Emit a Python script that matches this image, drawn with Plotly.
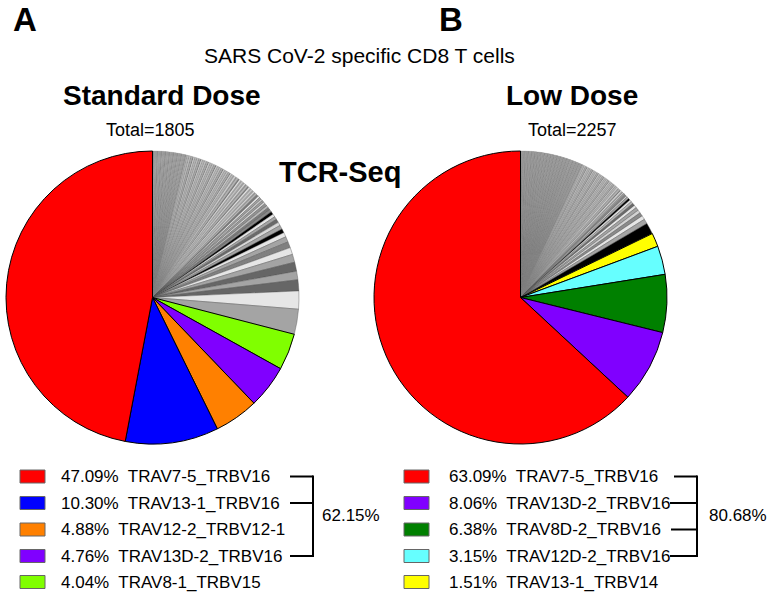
import plotly.graph_objects as go

W, H = 768, 595

# ---------------- Data ----------------
# Panel A: Standard Dose
left_title = "Standard Dose"
left_total = 1805
left_top_pcts = [47.09, 10.30, 4.88, 4.76, 4.04]
left_top_names = ["TRAV7-5_TRBV16", "TRAV13-1_TRBV16", "TRAV12-2_TRBV12-1",
                  "TRAV13D-2_TRBV16", "TRAV8-1_TRBV15"]
left_top_colors = ["#ff0000", "#0000ff", "#ff8000", "#8000ff", "#80ff00"]
left_bracket_rows = [0, 1, 3]
left_bracket_label = "62.15%"
# remaining clones (cell counts), in drawing order
left_other_cells = [
    50, 36, 22, 17, 18, 16, 14, 12, 11, 9, 8, 8,
    7, 7, 6, 6, 6, 5, 5, 5, 5, 4, 4, 4, 4, 4, 4,
    3, 3, 3, 3, 3, 3, 3, 3, 3, 3,
    3, 3, 3, 3, 3, 3, 3, 3, 3, 3,
    2, 2, 2, 2, 2, 2, 2, 2, 2, 2,
    2, 2, 2, 2, 2, 2, 2, 2, 2, 2,
    2, 2, 2, 2, 2, 2, 2, 2, 2, 2,
    2, 2, 2, 2, 2, 2, 2, 2, 2, 2,
    2, 2, 2, 2, 2, 2, 2, 2, 2, 2,
    1, 1, 1, 1, 1, 1, 1, 1, 1, 1,
    1, 1, 1, 1, 1, 1, 1, 1, 1, 1,
    1, 1, 1, 1, 1, 1, 1, 1, 1, 1,
    1, 1, 1, 1, 1, 1, 1, 1, 1, 1,
    1, 1, 1, 1, 1, 1, 1, 1, 1, 1,
    1, 1, 1, 1, 1, 1, 1, 1, 1, 1,
    1, 1, 1, 1, 1, 1, 1, 1,
]

# Panel B: Low Dose
right_title = "Low Dose"
right_total = 2257
right_top_pcts = [63.09, 8.06, 6.38, 3.15, 1.51]
right_top_names = ["TRAV7-5_TRBV16", "TRAV13D-2_TRBV16", "TRAV8D-2_TRBV16",
                   "TRAV12D-2_TRBV16", "TRAV13-1_TRBV14"]
right_top_colors = ["#ff0000", "#8000ff", "#008000", "#66ffff", "#ffff00"]
right_bracket_rows = [0, 1, 2, 3]
right_bracket_label = "80.68%"
right_other_cells = [
    28, 12, 10, 9, 8, 8, 7, 6, 6, 5, 5, 5, 4, 4, 4, 4, 3, 3, 3, 3, 3, 3,
    2, 2, 2, 2, 2, 2, 2, 2, 2, 2,
    2, 2, 2, 2, 2, 2, 2, 2, 2, 2,
    2, 2, 2, 2, 2, 2, 2, 2, 2, 2,
    2, 2, 2, 2, 2, 2, 2, 2, 2, 2,
    2, 2, 2, 2, 2, 2, 2, 2, 2, 2,
    1, 1, 1, 1, 1, 1, 1, 1, 1, 1,
    1, 1, 1, 1, 1, 1, 1, 1, 1, 1,
    1, 1, 1, 1, 1, 1, 1, 1, 1, 1,
    1, 1, 1, 1, 1, 1, 1, 1, 1, 1,
    1, 1, 1, 1, 1, 1, 1, 1, 1, 1,
    1, 1, 1, 1, 1, 1, 1, 1, 1, 1,
    1, 1, 1, 1, 1, 1, 1, 1, 1, 1,
    1, 1, 1, 1, 1, 1, 1, 1, 1, 1,
    1, 1, 1, 1, 1, 1, 1, 1, 1, 1,
    1, 1, 1, 1, 1, 1, 1, 1, 1, 1,
    1, 1, 1, 1, 1, 1, 1, 1, 1, 1,
    1, 1, 1, 1, 1, 1, 1, 1, 1, 1,
    1, 1, 1, 1, 1, 1, 1, 1, 1, 1,
    1, 1, 1, 1, 1, 1, 1, 1, 1, 1,
    1, 1, 1, 1, 1, 1, 1, 1, 1, 1,
    1, 1, 1, 1, 1, 1, 1, 1, 1,
]

main_title = "SARS CoV-2 specific CD8 T cells"
method_label = "TCR-Seq"
panel_letters = ["A", "B"]

# ---------------- Styles ----------------
FONT = "Liberation Sans, Arial, sans-serif"
GRAY_CYCLE = ["#a4a4a4", "#e4e4e4", "#7a7a7a", "#b8b8b8", "#939393", "#d6d6d6", "#a0a0a0", "#c8c8c8"]
left_lead_grays = ["#a4a4a4", "#e6e6e6", "#666666", "#a4a4a4", "#666666", "#a4a4a4",
                   "#e6e6e6", "#808080", "#a4a4a4", "#e6e6e6", "#000000", "#a4a4a4",
                   "#d8d8d8", "#6a6a6a", "#a4a4a4", "#e6e6e6", "#000000", "#8a8a8a"]
right_lead_grays = ["#000000", "#a4a4a4", "#e6e6e6", "#8a8a8a", "#d2d2d2", "#a4a4a4",
                    "#e6e6e6", "#6a6a6a", "#b4b4b4", "#e6e6e6", "#000000", "#a4a4a4",
                    "#d2d2d2", "#8a8a8a"]


def px(x):
    return x / W


def py(y):
    return 1 - y / H


def pie_trace(top_pcts, top_colors, other_cells, total, lead_grays, dom):
    other_pcts = [c * 100.0 / total for c in other_cells]
    values = list(top_pcts) + other_pcts
    gcols = [lead_grays[i] if i < len(lead_grays) else GRAY_CYCLE[i % len(GRAY_CYCLE)]
             for i in range(len(other_cells))]
    colors = list(top_colors) + gcols
    lcols = ["#000000"] * len(top_pcts) + [("#505050" if c >= 4 else "#7c7c7c") for c in other_cells]
    lw = [1.0] * len(top_pcts) + [(0.4 if c >= 4 else 0.25) for c in other_cells]
    # slices are laid out counter-clockwise from 12 o'clock: feed them reversed, clockwise
    return go.Pie(values=values[::-1], sort=False, direction="clockwise", rotation=0,
                  marker=dict(colors=colors[::-1], line=dict(color=lcols[::-1], width=lw[::-1])),
                  textinfo="none", hoverinfo="skip", showlegend=False,
                  domain=dict(x=[px(dom[0]), px(dom[1])], y=[py(dom[3]), py(dom[2])]))


fig = go.Figure()
fig.add_trace(pie_trace(left_top_pcts, left_top_colors, left_other_cells, left_total,
                        left_lead_grays, (6, 299, 151, 444)))
fig.add_trace(pie_trace(right_top_pcts, right_top_colors, right_other_cells, right_total,
                        right_lead_grays, (374, 667, 151, 444)))

ann = []
shapes = []


def text(x, y, s, size, bold=False, xanchor="center"):
    ann.append(dict(x=px(x), y=py(y), xref="paper", yref="paper", text=(f"<b>{s}</b>" if bold else s),
                    showarrow=False, xanchor=xanchor, yanchor="middle",
                    font=dict(family=FONT, size=size, color="#000000")))


# headers
text(25, 19, panel_letters[0], 33, bold=True)
text(451, 19, panel_letters[1], 33, bold=True)
text(359, 55, main_title, 21)
text(162, 96, left_title, 28, bold=True)
text(572, 96, right_title, 28, bold=True)
text(150, 130, f"Total={left_total}", 18)
text(572, 130, f"Total={right_total}", 18)
text(340, 172, method_label, 29, bold=True)

row_y = [476.5, 503, 529.5, 556, 582]


def legend(x_rect, x_text, pcts, names, colors, brows, blabel, line_starts, x_vert, x_label):
    for i, (p, n, c) in enumerate(zip(pcts, names, colors)):
        y = row_y[i]
        shapes.append(dict(type="rect", xref="paper", yref="paper",
                           x0=px(x_rect), x1=px(x_rect + 25), y0=py(y + 6.5), y1=py(y - 6.5),
                           fillcolor=c, line=dict(color="#666666", width=1)))
        text(x_text, y, f"{p:.2f}%\u00a0 {n}", 17, xanchor="left")
    for r, xs in zip(brows, line_starts):
        shapes.append(dict(type="line", xref="paper", yref="paper",
                           x0=px(xs), x1=px(x_vert), y0=py(row_y[r]), y1=py(row_y[r]),
                           line=dict(color="#000000", width=2)))
    shapes.append(dict(type="line", xref="paper", yref="paper",
                       x0=px(x_vert), x1=px(x_vert), y0=py(row_y[brows[0]] - 1), y1=py(row_y[brows[-1]] + 1),
                       line=dict(color="#000000", width=2)))
    text(x_label, 515, blabel, 17, xanchor="left")


legend(20, 59, left_top_pcts, left_top_names, left_top_colors, left_bracket_rows,
       left_bracket_label, [290, 290, 290], 313, 320)
legend(404, 447, right_top_pcts, right_top_names, right_top_colors, right_bracket_rows,
       right_bracket_label, [674, 670, 671, 670], 697, 707)

fig.update_layout(width=W, height=H, margin=dict(l=0, r=0, t=0, b=0),
                  paper_bgcolor="#ffffff", plot_bgcolor="#ffffff",
                  annotations=ann, shapes=shapes)

fig.write_html("out.html", config={"displayModeBar": False},
               post_script="document.body.style.margin='0px';document.body.style.overflow='hidden';")
